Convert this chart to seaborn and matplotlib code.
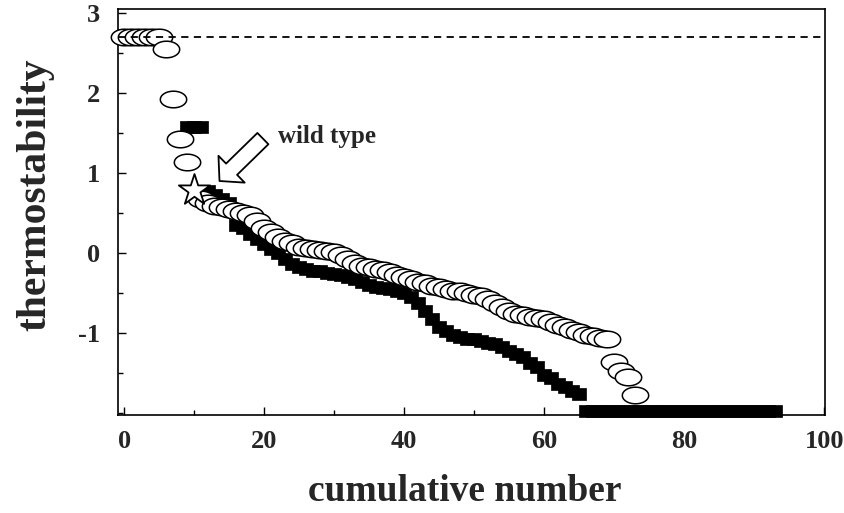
import numpy as np
import matplotlib
matplotlib.use("Agg")
import matplotlib.pyplot as plt
from matplotlib.path import Path
from matplotlib.patches import ArrowStyle
from matplotlib.ticker import MultipleLocator
import seaborn as sns

# ---------------- data ----------------
circle_x = [0, 1, 2, 3, 4, 5, 6, 7, 8, 9] + list(range(11, 74))
circle_y = [2.70, 2.70, 2.70, 2.70, 2.70, 2.70, 2.55, 1.92, 1.43, 1.14,
            0.68, 0.63, 0.59, 0.57, 0.55, 0.53, 0.50, 0.47, 0.40, 0.31,
            0.26, 0.20, 0.15, 0.12, 0.08, 0.06, 0.05, 0.04, 0.03, 0.01,
            -0.03, -0.08, -0.13, -0.16, -0.18, -0.20, -0.21, -0.24, -0.27, -0.30,
            -0.33, -0.36, -0.38, -0.41, -0.43, -0.45, -0.47, -0.48, -0.50, -0.52,
            -0.54, -0.57, -0.62, -0.68, -0.73, -0.76, -0.78, -0.80, -0.81, -0.83,
            -0.86, -0.90, -0.93, -0.96, -0.99, -1.02, -1.04, -1.06, -1.08, -1.36,
            -1.47, -1.55, -1.78]

square_x = list(range(9, 94))
square_y = [1.58, 1.58, 1.57,
            0.77, 0.73, 0.67, 0.62,
            0.35, 0.31, 0.24, 0.18, 0.11, 0.05, 0.00, -0.08, -0.14, -0.18,
            -0.20, -0.22, -0.23, -0.25, -0.26, -0.28, -0.30, -0.33, -0.36, -0.40,
            -0.42, -0.44, -0.45, -0.48, -0.50, -0.55, -0.62, -0.72, -0.82, -0.92,
            -0.98, -1.02, -1.05, -1.07, -1.08, -1.10, -1.12, -1.14, -1.17, -1.22,
            -1.26, -1.30, -1.38, -1.42, -1.52, -1.56, -1.64, -1.68, -1.73, -1.76] + [-1.98] * 28

wt_x = [10]
wt_y = [0.79]
wt_label = "wild type"
ref_level = 2.70

x_ticks = [0, 20, 40, 60, 80, 100]
y_ticks = [-1, 0, 1, 2, 3]
x_label = "cumulative number"
y_label = "thermostability"

# ---------------- style ----------------
sns.set_theme(style="ticks")
plt.rcParams['font.family'] = ['Liberation Serif', 'DejaVu Serif']
plt.rcParams['font.weight'] = 'bold'
plt.rcParams['axes.unicode_minus'] = False

fig = plt.figure(figsize=(8.44, 5.13), dpi=100)
ax = fig.add_axes([118 / 844, 1 - 415 / 513, (825 - 118) / 844, (415 - 9) / 513])

theta = np.linspace(0, 2 * np.pi, 73)
ellipse = Path(np.column_stack([np.cos(theta), 0.63 * np.sin(theta)]), closed=True)
rect = Path([(-1, -0.88), (1, -0.88), (1, 0.88), (-1, 0.88), (-1, -0.88)], closed=True)

sns.scatterplot(x=square_x, y=square_y, marker=rect, s=110, color='black',
                edgecolor='black', linewidth=0.5, ax=ax, zorder=2, clip_on=False)
sns.scatterplot(x=circle_x, y=circle_y, marker=ellipse, s=360, color='white',
                edgecolor='black', linewidth=1.1, ax=ax, zorder=3, clip_on=False)
sns.scatterplot(x=wt_x, y=wt_y, marker='*', s=560, color='white',
                edgecolor='black', linewidth=1.3, ax=ax, zorder=4, clip_on=False)

ax.axhline(ref_level, color='black', ls=(0, (4, 3)), lw=1.3, zorder=5)

ax.annotate("", xy=(13.6, 0.90), xytext=(19.8, 1.43),
            arrowprops=dict(arrowstyle=ArrowStyle.Simple(head_length=0.45, head_width=1.0,
                                                         tail_width=0.42),
                            mutation_scale=27, fc='white', ec='black', lw=1.3,
                            shrinkA=0, shrinkB=0), zorder=6)
ax.text(21.9, 1.37, wt_label, ha='left', va='baseline', fontsize=18, fontweight='bold')

ax.set_xlim(-0.9, 100.1)
ax.set_ylim(-2.025, 3.05)
ax.set_xticks(x_ticks)
ax.set_yticks(y_ticks)
ax.xaxis.set_minor_locator(MultipleLocator(10))
ax.yaxis.set_minor_locator(MultipleLocator(0.5))
ax.tick_params(axis='both', which='major', direction='in', length=6, width=1,
               labelsize=19, color='black', top=False, right=False)
ax.tick_params(axis='both', which='minor', direction='in', length=3.5, width=1,
               color='black', top=False, right=False)
ax.tick_params(axis='x', which='major', pad=11)
ax.tick_params(axis='y', which='major', pad=13)
for lab in ax.get_xticklabels() + ax.get_yticklabels():
    lab.set_fontweight('bold')

for sp in ax.spines.values():
    sp.set_visible(True)
    sp.set_color('black')
    sp.set_linewidth(1.2)

ax.set_xlabel(x_label, fontsize=27, fontweight='bold')
ax.set_ylabel(y_label, fontsize=30, fontweight='bold')
ax.xaxis.set_label_coords(0.491, -0.145)
ax.yaxis.set_label_coords(-0.09, 0.542)

fig.savefig("out.png", dpi=100, facecolor='white')
